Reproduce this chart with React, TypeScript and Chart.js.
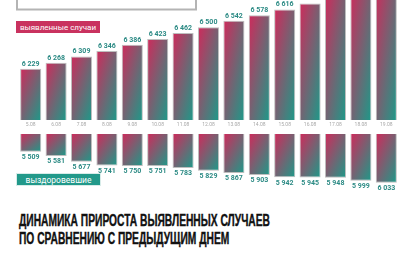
import React, { useEffect, useRef } from "react";
import { Chart, registerables } from "chart.js";

Chart.register(...registerables);

const dates = ["5.08", "6.08", "7.08", "8.08", "9.08", "10.08", "11.08", "12.08", "13.08", "14.08", "15.08", "16.08", "17.08", "18.08", "19.08"];
const detected = [6229, 6268, 6309, 6346, 6386, 6423, 6462, 6500, 6542, 6578, 6616, 6655, 6700, 6740, 6780];
const recovered = [5509, 5581, 5677, 5741, 5750, 5751, 5783, 5829, 5867, 5903, 5942, 5945, 5948, 5999, 6033];

const PINK = "#cf2a5b";
const TEAL = "#1c9a89";
const LABEL_TEAL = "#2b8a84";
const BAR_PCT = 0.83;

function fmt(v: number) {
  const s = String(v);
  return s.length > 3 ? s.slice(0, s.length - 3) + " " + s.slice(-3) : s;
}

function gradFor(c: any, reversed: boolean) {
  const chart = c.chart;
  if (!chart.chartArea || c.type !== "data") return PINK;
  const xs = chart.scales.x;
  const ys = chart.scales.y;
  const x = xs.getPixelForValue(c.dataIndex);
  const w = (xs.width / dates.length) * BAR_PCT;
  const vy = ys.getPixelForValue(c.raw);
  let top: number, bottom: number;
  if (reversed) {
    top = chart.chartArea.top;
    bottom = vy;
  } else {
    top = vy;
    bottom = chart.chartArea.bottom;
  }
  const h = Math.max(1, bottom - top);
  const cx = x;
  const cy = (top + bottom) / 2;
  const n = Math.sqrt(w * w + h * h);
  const dx = h / n;
  const dy = w / n;
  const L = (2 * w * h) / n;
  const g = chart.ctx.createLinearGradient(cx - (dx * L) / 2, cy - (dy * L) / 2, cx + (dx * L) / 2, cy + (dy * L) / 2);
  g.addColorStop(0, PINK);
  g.addColorStop(1, TEAL);
  return g;
}

const labelPlugin = (below: boolean) => ({
  id: "valueLabels" + (below ? "B" : "T"),
  afterDatasetsDraw(chart: any) {
    const ctx = chart.ctx;
    const meta = chart.getDatasetMeta(0);
    const data = chart.data.datasets[0].data as number[];
    ctx.save();
    ctx.font = "bold 7px Roboto";
    ctx.fillStyle = LABEL_TEAL;
    ctx.textAlign = "center";
    meta.data.forEach((el: any, i: number) => {
      if (below) {
        ctx.textBaseline = "top";
        ctx.fillText(fmt(data[i]), el.x, el.y + 2);
      } else {
        if (el.y < 9) return;
        ctx.textBaseline = "bottom";
        ctx.fillText(fmt(data[i]), el.x, el.y - 1.5);
      }
    });
    ctx.restore();
  },
});

const framePlugin = {
  id: "topFrame",
  afterDraw(chart: any) {
    const ctx = chart.ctx;
    ctx.save();
    ctx.fillStyle = "#ffffff";
    ctx.fillRect(17, -10, 179, 20);
    ctx.strokeStyle = "#b4b4b4";
    ctx.lineWidth = 2;
    ctx.strokeRect(17, -10, 179, 19.5);
    ctx.restore();
  },
};

export default function App() {
  const topRef = useRef<HTMLCanvasElement>(null);
  const botRef = useRef<HTMLCanvasElement>(null);

  useEffect(() => {
    const top = new Chart(topRef.current!, {
      type: "bar",
      data: {
        labels: dates,
        datasets: [
          {
            data: detected,
            backgroundColor: (c: any) => gradFor(c, false),
            borderColor: "rgba(110,110,110,0.45)",
            borderWidth: 1,
            barPercentage: BAR_PCT,
            categoryPercentage: 1,
          },
        ],
      },
      options: {
        responsive: false,
        animation: false,
        layout: { padding: { left: 18, right: 15, top: 0, bottom: 0 } },
        plugins: { legend: { display: false }, tooltip: { enabled: false } },
        scales: {
          x: {
            grid: { display: false, drawTicks: false },
            border: { display: false },
            ticks: { font: { family: "Roboto", size: 5 }, color: "#a8a8a8", padding: 2, maxRotation: 0, autoSkip: false },
          },
          y: { display: false, min: 5895, max: 6678 },
        },
      },
      plugins: [labelPlugin(false), framePlugin],
    });
    const bot = new Chart(botRef.current!, {
      type: "bar",
      data: {
        labels: dates,
        datasets: [
          {
            data: recovered,
            backgroundColor: (c: any) => gradFor(c, true),
            borderColor: "rgba(110,110,110,0.45)",
            borderWidth: 1,
            barPercentage: BAR_PCT,
            categoryPercentage: 1,
          },
        ],
      },
      options: {
        responsive: false,
        animation: false,
        layout: { padding: { left: 18, right: 15, top: 0, bottom: 4 } },
        plugins: { legend: { display: false }, tooltip: { enabled: false } },
        scales: {
          x: { display: false },
          y: { display: false, reverse: true, min: 5208, max: 6157 },
        },
      },
      plugins: [labelPlugin(true)],
    });
    return () => {
      top.destroy();
      bot.destroy();
    };
  }, []);

  const boxText: React.CSSProperties = {
    position: "absolute",
    color: "#fff",
    fontFamily: "Roboto, sans-serif",
    fontSize: 8,
    whiteSpace: "nowrap",
    display: "flex",
    alignItems: "center",
    justifyContent: "center",
    boxSizing: "border-box",
  };

  return (
    <div style={{ position: "absolute", left: 0, top: 0, width: 414, height: 256, background: "#fff", overflow: "hidden" }}>
      <canvas ref={topRef} width={414} height={130} style={{ position: "absolute", left: 0, top: 0 }} />
      <canvas ref={botRef} width={414} height={60} style={{ position: "absolute", left: 0, top: 134 }} />
      <div style={{ ...boxText, left: 16, top: 21, width: 84, height: 12, background: "#c9325f" }}>выявленные случаи</div>
      <div style={{ ...boxText, left: 16, top: 173, width: 85, height: 13, fontSize: 8.5, background: "#22998a", border: "1px solid #d8ece9" }}>выздоровевшие</div>
      <div
        style={{
          position: "absolute",
          left: 19,
          top: 212,
          fontFamily: "'Liberation Sans Narrow', sans-serif",
          fontWeight: 700,
          fontSize: 16,
          lineHeight: "18.3px",
          color: "#111",
          whiteSpace: "nowrap",
          transformOrigin: "left top",
          transform: "scaleX(0.64)",
          WebkitTextStroke: "0.4px #111",
        }}
      >
        <div>ДИНАМИКА ПРИРОСТА ВЫЯВЛЕННЫХ СЛУЧАЕВ</div>
        <div>ПО СРАВНЕНИЮ С ПРЕДЫДУЩИМ ДНЕМ</div>
      </div>
    </div>
  );
}
